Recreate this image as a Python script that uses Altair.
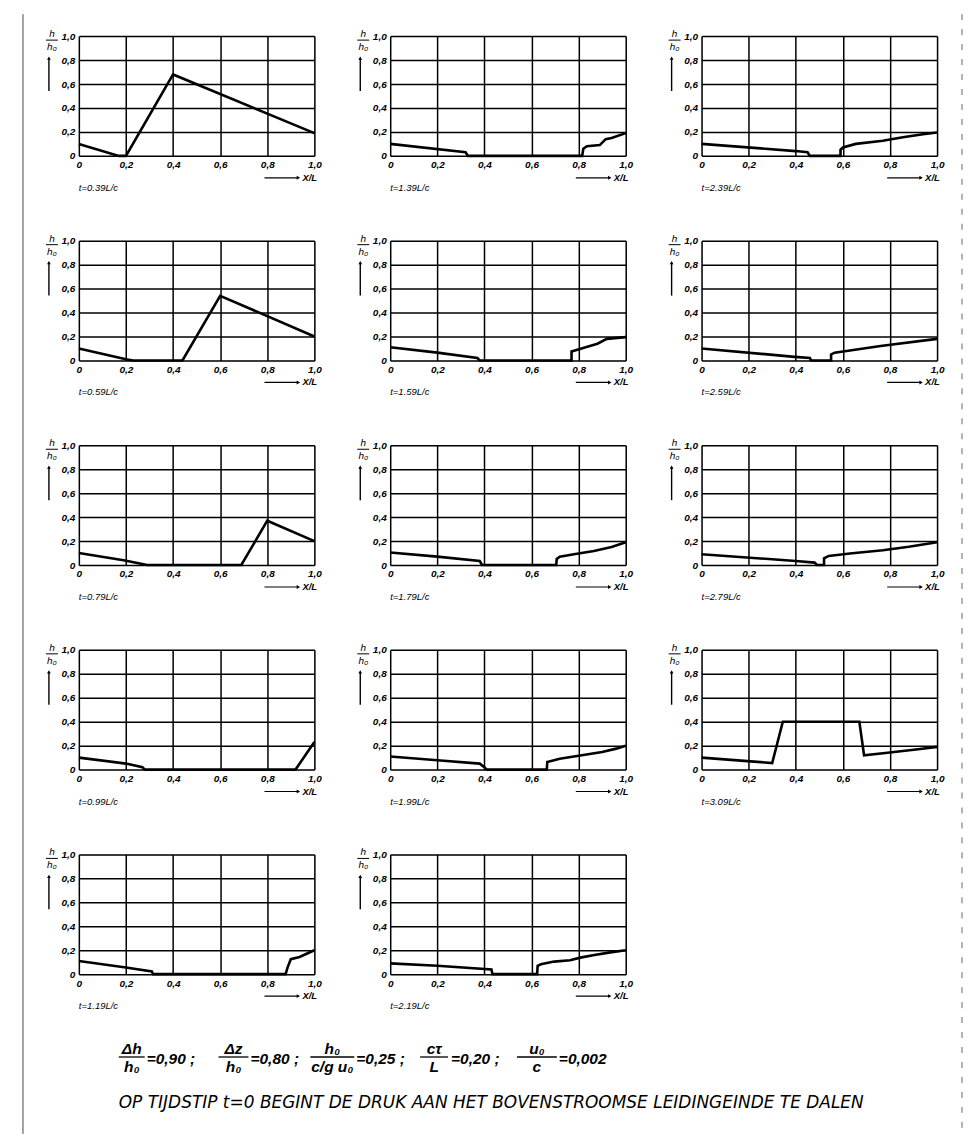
import altair as alt
import pandas as pd

FONT = "Liberation Sans"
WIDE_FONT = "DejaVu Sans"
TICKS = [0, 0.2, 0.4, 0.6, 0.8, 1.0]

# ---- data (x = X/L, y = h/h0) ----
X_039 = [0, 0.17, 0.20, 0.40, 1.00]
Y_039 = [0.10, 0.0, 0.0, 0.68, 0.19]

X_139 = [0, 0.32, 0.33, 0.815, 0.82, 0.835, 0.89, 0.915, 0.94, 1.00]
Y_139 = [0.10, 0.03, 0.0, 0.0, 0.06, 0.08, 0.09, 0.14, 0.15, 0.19]

X_239 = [0, 0.40, 0.45, 0.46, 0.59, 0.59, 0.60, 0.655, 0.77, 0.855, 0.94, 1.0]
Y_239 = [0.10, 0.04, 0.03, 0.0, 0.0, 0.05, 0.07, 0.10, 0.127, 0.155, 0.18, 0.195]

X_059 = [0, 0.20, 0.23, 0.44, 0.60, 1.0]
Y_059 = [0.10, 0.01, 0.0, 0.0, 0.54, 0.20]

X_159 = [0, 0.20, 0.37, 0.38, 0.77, 0.77, 0.83, 0.88, 0.92, 1.0]
Y_159 = [0.11, 0.065, 0.02, 0.0, 0.0, 0.075, 0.11, 0.14, 0.18, 0.195]

X_259 = [0, 0.395, 0.46, 0.465, 0.55, 0.55, 0.565, 0.76, 1.0]
Y_259 = [0.10, 0.03, 0.02, 0.0, 0.0, 0.05, 0.065, 0.12, 0.18]

X_079 = [0, 0.19, 0.29, 0.69, 0.80, 1.0]
Y_079 = [0.10, 0.04, 0.0, 0.0, 0.37, 0.20]

X_179 = [0, 0.20, 0.38, 0.39, 0.705, 0.707, 0.72, 0.78, 0.865, 0.94, 1.0]
Y_179 = [0.105, 0.07, 0.033, 0.0, 0.0, 0.05, 0.07, 0.09, 0.117, 0.15, 0.19]

X_279 = [0, 0.40, 0.48, 0.49, 0.52, 0.52, 0.54, 0.63, 0.77, 0.88, 1.0]
Y_279 = [0.09, 0.034, 0.02, 0.0, 0.0, 0.056, 0.076, 0.096, 0.124, 0.153, 0.19]

X_099 = [0, 0.20, 0.27, 0.28, 0.92, 1.0]
Y_099 = [0.10, 0.05, 0.02, 0.0, 0.0, 0.23]

X_199 = [0, 0.20, 0.38, 0.40, 0.41, 0.665, 0.667, 0.72, 0.78, 0.90, 0.96, 1.0]
Y_199 = [0.11, 0.078, 0.05, 0.02, 0.0, 0.0, 0.064, 0.09, 0.11, 0.147, 0.175, 0.20]

X_309 = [0, 0.30, 0.345, 0.50, 0.67, 0.69, 0.79, 0.92, 1.0]
Y_309 = [0.10, 0.055, 0.40, 0.40, 0.40, 0.12, 0.14, 0.17, 0.19]

X_119 = [0, 0.20, 0.31, 0.315, 0.878, 0.886, 0.90, 0.937, 1.0]
Y_119 = [0.11, 0.055, 0.022, 0.0, 0.0, 0.055, 0.125, 0.144, 0.20]

X_219 = [0, 0.20, 0.43, 0.434, 0.624, 0.626, 0.64, 0.696, 0.764, 0.807, 0.867, 0.935, 1.0]
Y_219 = [0.09, 0.07, 0.04, 0.0, 0.0, 0.07, 0.083, 0.105, 0.116, 0.138, 0.16, 0.182, 0.20]

# panels in reading order (row by row)
PANELS = [
    ("t=0.39L/c", X_039, Y_039), ("t=1.39L/c", X_139, Y_139), ("t=2.39L/c", X_239, Y_239),
    ("t=0.59L/c", X_059, Y_059), ("t=1.59L/c", X_159, Y_159), ("t=2.59L/c", X_259, Y_259),
    ("t=0.79L/c", X_079, Y_079), ("t=1.79L/c", X_179, Y_179), ("t=2.79L/c", X_279, Y_279),
    ("t=0.99L/c", X_099, Y_099), ("t=1.99L/c", X_199, Y_199), ("t=3.09L/c", X_309, Y_309),
    ("t=1.19L/c", X_119, Y_119), ("t=2.19L/c", X_219, Y_219),
]

FRAC_NUM = ["Δh", "Δz", "h₀", "cτ", "u₀"]
FRAC_DEN = ["h₀", "h₀", "c/g  u₀", "L", "c"]
FRAC_VAL = ["=0,90  ;", "=0,80 ;", "=0,25 ;", "=0,20 ;", "=0,002"]
NOTE = "OP TIJDSTIP t=0  BEGINT DE DRUK AAN HET BOVENSTROOMSE LEIDINGEINDE TE DALEN"

W, H = 236, 120
ONE = pd.DataFrame({"k": [0]})
LABEL_EXPR = "datum.value == 0 ? '0' : replace(format(datum.value, '.1f'), '.', ',')"


def axis():
    return alt.Axis(values=TICKS, labelExpr=LABEL_EXPR, title=None, grid=True,
                    gridColor="black", gridWidth=1.5, gridOpacity=1, domain=False,
                    ticks=False, labelPadding=4, labelFontSize=10, labelFontStyle="italic",
                    labelFontWeight="bold", labelColor="black", labelFont=FONT,
                    labelFlush=False)


def txt(text, x, y, size=9, align="center", weight="normal", font=FONT):
    return alt.Chart(ONE).mark_text(
        text=text, fontSize=size, fontStyle="italic", fontWeight=weight, align=align,
        baseline="middle", font=font, color="black"
    ).encode(x=alt.value(x), y=alt.value(y))


def rule(x, y, x2=None, y2=None, w=1.0, color="black", dash=None):
    enc = dict(x=alt.value(x), y=alt.value(y))
    if x2 is not None:
        enc["x2"] = alt.value(x2)
    if y2 is not None:
        enc["y2"] = alt.value(y2)
    kw = dict(color=color, strokeWidth=w)
    if dash is not None:
        kw["strokeDash"] = dash
    return alt.Chart(ONE).mark_rule(**kw).encode(**enc)


def tri(shape, x, y, size=18):
    return alt.Chart(ONE).mark_point(shape=shape, filled=True, size=size, color="black",
                                     opacity=1).encode(x=alt.value(x), y=alt.value(y))


def panel(label, xs, ys, extra=()):
    df = pd.DataFrame({"x": xs, "y": ys, "i": list(range(len(xs)))})
    line = alt.Chart(df).mark_line(color="black", strokeWidth=2.6).encode(
        x=alt.X("x:Q", scale=alt.Scale(domain=[0, 1], nice=False), axis=axis()),
        y=alt.Y("y:Q", scale=alt.Scale(domain=[0, 1], nice=False), axis=axis()),
        order=alt.Order("i:Q"),
    )
    layers = [
        line,
        txt(label, 0, 152, size=9.5, align="left"),
        rule(186, 142, x2=219, w=1.1),
        tri("triangle-right", 220, 142, 16),
        txt("X/L", 224, 142, size=9.5, align="left", weight="bold"),
        txt("h", -27, -2, size=10),
        rule(-33, 4, x2=-21, w=1.0),
        txt("h₀", -27, 11, size=10),
        rule(-30, 22, y2=55, w=1.4),
        tri("triangle-up", -30, 22, 14),
    ]
    layers += list(extra)
    return alt.layer(*layers).properties(width=W, height=H)


# scan border lines (attached to first panel, origin at its plot area)
border = [
    rule(-56, -22, y2=1100, w=1.0, color="#444"),
    rule(885, -22, y2=1100, w=1.0, color="#666", dash=[6, 9]),
]

# footer (attached to panel 13, origin at its plot area)
CX = [53, 155, 254, 356, 459]
HALF = [13, 15, 22, 14, 20]
EQX = [68, 172, 278, 373, 481]
footer = []
for num, den, val, cx, hw, ex in zip(FRAC_NUM, FRAC_DEN, FRAC_VAL, CX, HALF, EQX):
    footer.append(txt(num, cx, 195, size=15.5, weight="bold"))
    footer.append(rule(cx - hw, 203, x2=cx + hw, w=1.3))
    footer.append(txt(den, cx, 213, size=15.5, weight="bold"))
    footer.append(txt(val, ex, 205, size=15.5, align="left", weight="bold"))
footer.append(txt(NOTE, 40, 249, size=17, align="left", weight="normal", font=WIDE_FONT))

charts = []
for k, (label, xs, ys) in enumerate(PANELS):
    extra = ()
    if k == 0:
        extra = border
    if k == 12:
        extra = footer
    charts.append(panel(label, xs, ys, extra))

chart = alt.concat(*charts, columns=3, spacing={"row": 85, "column": 76}, bounds="flush").properties(
    padding={"left": 14, "top": 4, "right": 5, "bottom": 5}
).configure_view(stroke="black", strokeWidth=1.6).configure(background="white")

chart.save("out.html", embed_options={"renderer": "svg", "actions": False})
